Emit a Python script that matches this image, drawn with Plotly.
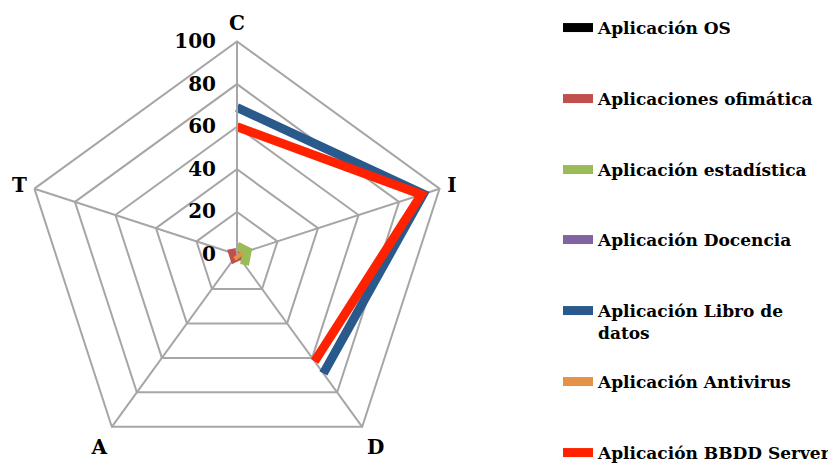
import plotly.graph_objects as go

categories = ["C", "I", "D", "A", "T"]
series_names = [
    "Aplicación OS",
    "Aplicaciones ofimática",
    "Aplicación estadística",
    "Aplicación Docencia",
    "Aplicación Libro de<br>datos",
    "Aplicación Antivirus",
    "Aplicación BBDD Server",
]
os_vals = [0, 0, 0, 0, 0]
ofimatica_vals = [1, 1, 1, 2, 2]
estadistica_vals = [4, 5, 6, None, None]
docencia_vals = [0, 0, 0, None, None]
libro_vals = [69, 92, 69, None, None]
antivirus_vals = [0, 0, 2, None, None]
bbdd_vals = [60, 91, 62, None, None]
radial_ticks = [0, 20, 40, 60, 80, 100]

series_vals = [os_vals, ofimatica_vals, estadistica_vals, docencia_vals,
               libro_vals, antivirus_vals, bbdd_vals]
colors = ["#000000", "#C0504D", "#9BBB59", "#8064A2", "#2A5A8C", "#E39247", "#FF2200"]

FONT = "DejaVu Serif"
W, H = 836, 468
fig = go.Figure()

legend_y = [28, 99, 170, 240, 311, 382, 453]
for i, (name, vals, col) in enumerate(zip(series_names, series_vals, colors)):
    theta = categories + [categories[0]]
    r = vals + [vals[0]]
    lg = "legend" if i == 0 else f"legend{i+1}"
    fig.add_trace(go.Scatterpolar(
        r=r, theta=theta, mode="lines", name=name,
        line=dict(color=col, width=9), connectgaps=False,
        legend=lg, showlegend=True,
    ))

layout_legends = {}
for i, yy in enumerate(legend_y):
    key = "legend" if i == 0 else f"legend{i+1}"
    two_line = "<br>" in series_names[i]
    layout_legends[key] = dict(
        x=550 / W, xanchor="left",
        y=1 - (yy - 26) / H if two_line else 1 - (yy - 8) / H,
        yanchor="top" if two_line else "middle",
        bgcolor="rgba(0,0,0,0)",
        font=dict(family=FONT, size=17, color="#000000", weight="bold"),
        valign="top", itemwidth=30,
    )

cx, cy, R = 229, 246.5, 213
fig.update_layout(
    width=W, height=H,
    margin=dict(l=0, r=0, t=0, b=0, autoexpand=False),
    paper_bgcolor="white",
    polar=dict(
        domain=dict(x=[(cx - R) / W, (cx + R) / W],
                    y=[(H - cy - R) / H, (H - cy + R) / H]),
        bgcolor="white",
        gridshape="linear",
        radialaxis=dict(
            range=[0, 100], tickvals=radial_ticks, angle=90,
            showline=True, linecolor="#A6A6A6", linewidth=2,
            gridcolor="#A6A6A6", gridwidth=2,
            ticks="outside", ticklen=13, tickcolor="rgba(0,0,0,0)",
            showticklabels=True, side="counterclockwise",
            tickfont=dict(family=FONT, size=20, color="#000000", weight="bold"),
            tickangle=90,
        ),
        angularaxis=dict(
            rotation=90, direction="clockwise",
            showline=True, linecolor="#A6A6A6", linewidth=2,
            gridcolor="#A6A6A6", gridwidth=2,
            ticks="outside", ticklen=3, tickcolor="rgba(0,0,0,0)",
            tickfont=dict(family=FONT, size=20, color="#000000", weight="bold"),
        ),
    ),
    **layout_legends,
)

fig.write_html("out.html")
